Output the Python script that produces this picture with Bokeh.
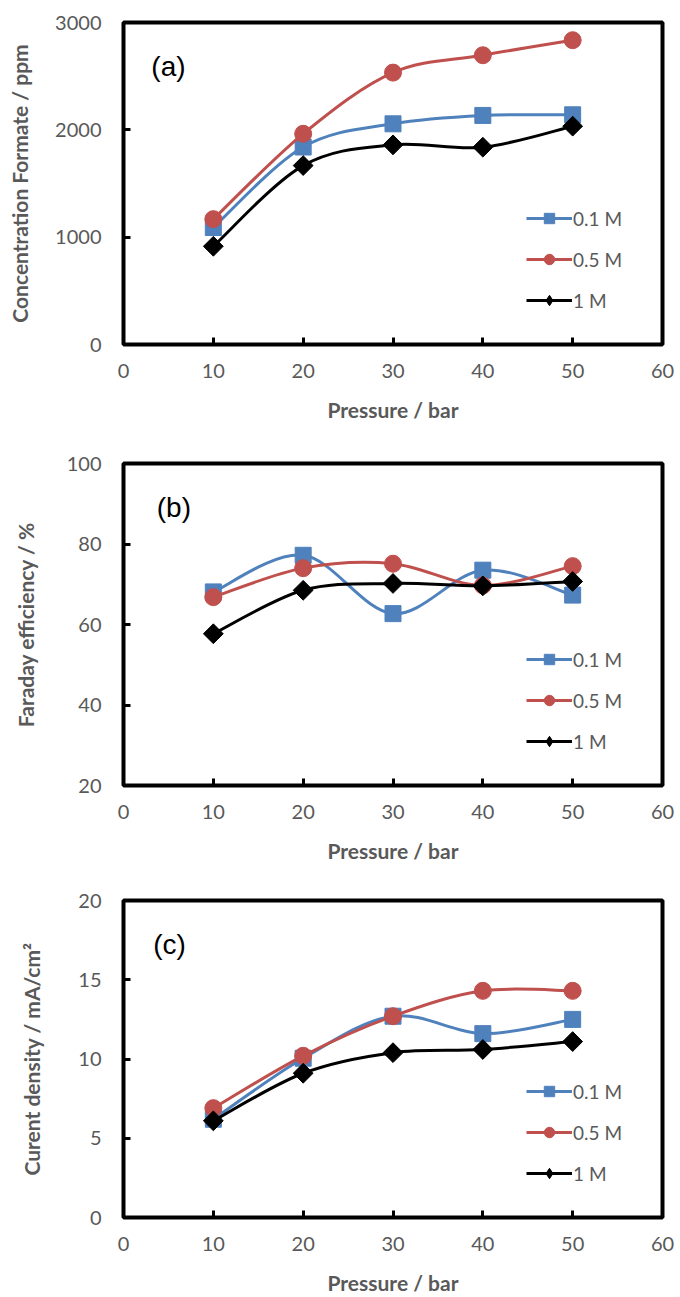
from bokeh.plotting import figure
from bokeh.layouts import column
from bokeh.models import (Range1d, FixedTicker, Legend, LegendItem, Label,
                          ColumnDataSource)
from bokeh.embed import file_html
from bokeh.resources import INLINE

# ---------------- data ----------------
pressure = [10, 20, 30, 40, 50]
series_names = ["0.1 M", "0.5 M", "1 M"]

formate_01 = [1090, 1840, 2056, 2134, 2140]
formate_05 = [1168, 1963, 2533, 2695, 2835]
formate_1 = [915, 1667, 1860, 1838, 2034]

fe_01 = [68.1, 77.2, 62.7, 73.5, 67.3]
fe_05 = [66.8, 74.0, 75.1, 69.7, 74.5]
fe_1 = [57.7, 68.5, 70.2, 69.6, 70.7]

cd_01 = [6.2, 10.05, 12.7, 11.6, 12.5]
cd_05 = [6.9, 10.2, 12.7, 14.3, 14.3]
cd_1 = [6.1, 9.1, 10.4, 10.6, 11.1]

x_ticks = [0, 10, 20, 30, 40, 50, 60]
a_ticks = [0, 1000, 2000, 3000]
b_ticks = [20, 40, 60, 80, 100]
c_ticks = [0, 5, 10, 15, 20]

# ---------------- styles ----------------
COLORS = ["#4F81BD", "#C0504D", "#000000"]
# (plot marker, size, angle, legend marker)
MARKERS = [("square", 16, 0.0, "square"),
           ("circle", 17, 0.0, "circle"),
           ("square", 14, 0.785398, "diamond")]
GRAY = "#595959"


def smooth_source(xs, ys):
    """Bezier segments (Excel-like smoothed line) through the data points."""
    n = len(xs)
    d = dict(x0=[], y0=[], x1=[], y1=[], cx0=[], cy0=[], cx1=[], cy1=[])
    for i in range(n - 1):
        ip = max(i - 1, 0)
        inx = min(i + 2, n - 1)
        d["x0"].append(xs[i]); d["y0"].append(ys[i])
        d["x1"].append(xs[i + 1]); d["y1"].append(ys[i + 1])
        d["cx0"].append(xs[i] + (xs[i + 1] - xs[ip]) / 6.0)
        d["cy0"].append(ys[i] + (ys[i + 1] - ys[ip]) / 6.0)
        d["cx1"].append(xs[i + 1] - (xs[inx] - xs[i]) / 6.0)
        d["cy1"].append(ys[i + 1] - (ys[inx] - ys[i]) / 6.0)
    return ColumnDataSource(d)


def make_panel(series, ylab, yr, yticks, tag, tag_xy, left, right, top, bottom,
               height, ylab_standoff):
    p = figure(width=676, height=height, x_range=Range1d(0, 60),
               y_range=Range1d(*yr), output_backend="svg",
               toolbar_location=None, min_border_left=left,
               min_border_right=right, min_border_top=top,
               min_border_bottom=bottom)
    p.grid.visible = False
    p.outline_line_color = "black"
    p.outline_line_width = 4
    p.background_fill_color = "white"

    for ax in (p.xaxis[0], p.yaxis[0]):
        ax.axis_line_color = None
        ax.major_tick_in = 7
        ax.major_tick_out = 0
        ax.major_tick_line_width = 3
        ax.major_tick_line_color = "black"
        ax.minor_tick_line_color = None
        ax.major_label_text_font = "Lato"
        ax.major_label_text_font_size = "20px"
        ax.major_label_text_color = GRAY
        ax.axis_label_text_font = "Lato"
        ax.axis_label_text_font_style = "bold"
        ax.axis_label_text_font_size = "21px"
        ax.axis_label_text_color = GRAY

    p.xaxis[0].ticker = FixedTicker(ticks=x_ticks)
    p.yaxis[0].ticker = FixedTicker(ticks=yticks)
    p.xaxis[0].axis_label = "Pressure / bar"
    p.yaxis[0].axis_label = ylab
    p.xaxis[0].major_label_standoff = 19
    p.xaxis[0].axis_label_standoff = 16
    p.yaxis[0].major_label_standoff = 22
    p.yaxis[0].axis_label_standoff = ylab_standoff

    items = []
    for name, vals, col, (mk, sz, ang, lmk) in zip(series_names, series,
                                                   COLORS, MARKERS):
        bz = p.bezier(x0="x0", y0="y0", x1="x1", y1="y1", cx0="cx0",
                      cy0="cy0", cx1="cx1", cy1="cy1",
                      source=smooth_source(pressure, vals),
                      line_color=col, line_width=3)
        key = None
        if lmk != mk:
            # diamond key (drawn beneath the wider rotated square marks)
            key = p.scatter(pressure, vals, marker=lmk, size=17,
                            fill_color=col, line_color=col)
        sc = p.scatter(pressure, vals, marker=mk, size=sz, angle=ang,
                       fill_color=col, line_color=col)
        items.append(LegendItem(label=name, renderers=[bz, key or sc]))

    leg = Legend(items=items, location=(403, 31), glyph_width=46,
                 glyph_height=26, label_height=26, spacing=15, padding=0,
                 margin=0, label_standoff=1, background_fill_alpha=0,
                 border_line_alpha=0, label_text_font="Lato",
                 label_text_font_size="19px", label_text_color=GRAY)
    p.add_layout(leg)

    p.add_layout(Label(x=tag_xy[0], y=tag_xy[1], text=tag,
                       text_font="Liberation Sans", text_font_size="28px",
                       text_baseline="middle", text_color="black"))
    return p


pa = make_panel([formate_01, formate_05, formate_1],
                "Concentration Formate / ppm", (0, 3000), a_ticks, "(a)",
                (3.1, 2590), 121, 9, 22, 97, 441, 20)
pb = make_panel([fe_01, fe_05, fe_1], "Faraday efficiency / %", (20, 100),
                b_ticks, "(b)", (3.7, 89.1), 116, 14, 22, 95, 439, 26)
pc = make_panel([cd_01, cd_05, cd_1], "Curent density / mA/cm²", (0, 20),
                c_ticks, "(c)", (3.3, 17.25), 123, 9, 20, 75, 417, 31)

layout = column(pa, pb, pc, spacing=0)
open("out.html", "w").write(file_html(layout, INLINE))
